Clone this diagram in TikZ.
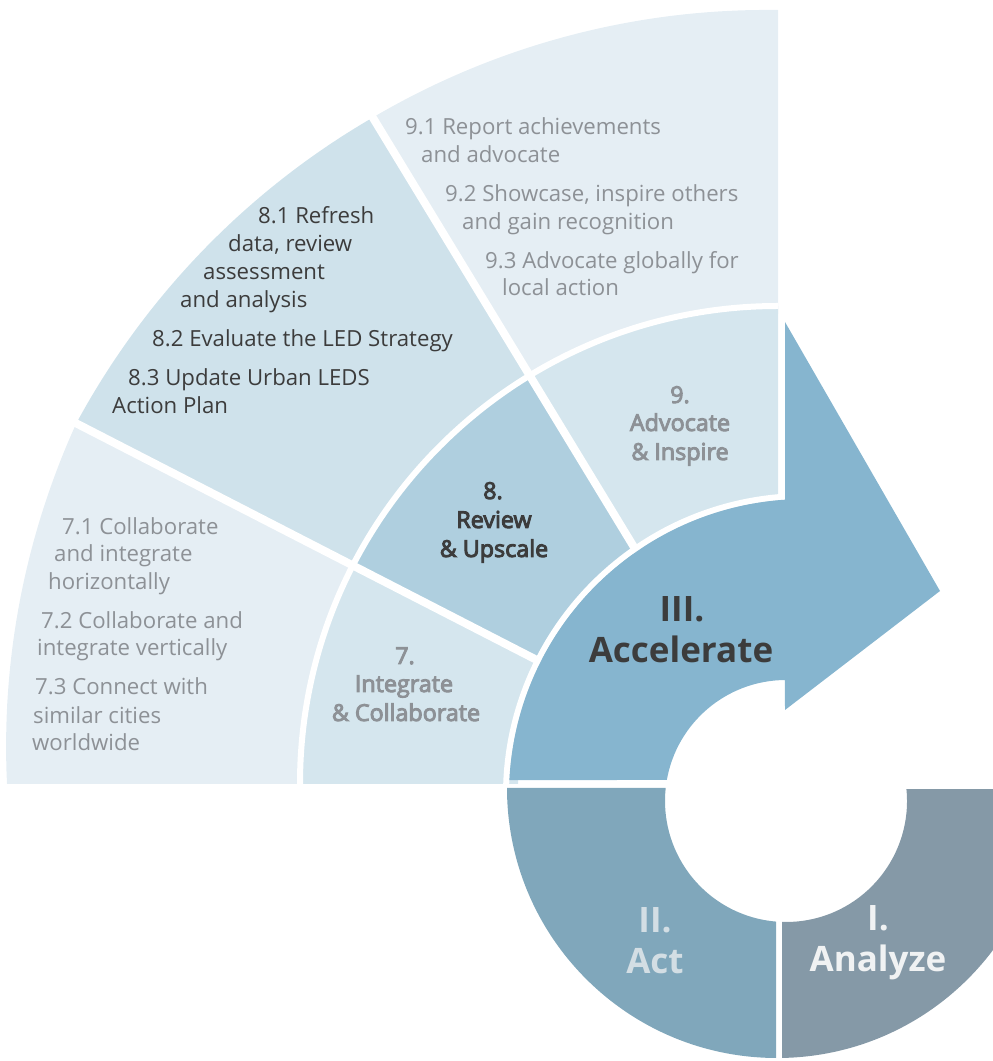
\documentclass[tikz,border=0pt]{standalone}
\usepackage{fontspec}
\setmainfont{Open Sans}
\newfontfamily\semibold{Open Sans}[FakeBold=4]
\usetikzlibrary{calc}
\definecolor{cOuterL}{HTML}{E5EEF4}
\definecolor{cOuterM}{HTML}{CFE2EB}
\definecolor{cMidL}{HTML}{D5E6EE}
\definecolor{cMidD}{HTML}{AFCFDF}
\definecolor{cAcc}{HTML}{86B5CF}
\definecolor{cAct}{HTML}{80A7BB}
\definecolor{cAna}{HTML}{8599A7}
\definecolor{tDark}{HTML}{3C3C3C}
\definecolor{tGray}{HTML}{8D9196}
\definecolor{tAct}{HTML}{D3DEE4}
\definecolor{tAna}{HTML}{F0F2F3}
% annular cell: start angle, end angle, inner r, outer r at start, outer r at end, colour
\newcommand\ringcell[6]{%
  \fill[#6] plot[domain=#1:#2,samples=60] (\x:{#4+(#5-#4)*(\x-(#1))/((#2)-(#1))})
    -- (#2:#3) arc[start angle=#2,end angle=#1,radius=#3 pt] -- cycle;}
\newcommand\actring{($(C2)+(180:270)$) arc[start angle=180,end angle=360,radius=270pt]
    -- ($(H)+(6.17:121)$) arc[start angle=6.17,end angle=-186.17,radius=121pt] -- cycle}
\tikzset{
  reg/.style={font=\fontsize{22.2}{26}\selectfont, anchor=base west, inner sep=0pt},
  grayt/.style={reg, text=tGray},
  darkt/.style={reg, text=tDark},
  lab/.style={font=\semibold\fontsize{23.3}{26}\selectfont, anchor=base, inner sep=0pt},
  big/.style={font=\bfseries\fontsize{35}{40}\selectfont, anchor=base, inner sep=0pt},
  gapline/.style={white, line width=#1},
}
\begin{document}
\begin{tikzpicture}[x=1pt,y=1pt]
\useasboundingbox (0,0) rectangle (993,1061);
\clip (0,0) rectangle (993,1061);
\coordinate (O) at (778,277);
\coordinate (Q) at (805,266);
\coordinate (H) at (786,260);
\coordinate (C2) at (777,273);

% outer and middle rings
\begin{scope}[shift={(778,277)}]
  \ringcell{90}{121.3}{470}{774}{780}{cOuterL}
  \ringcell{121.3}{152.8}{470}{780}{789}{cOuterM}
  \ringcell{152.8}{180}{470}{789}{771}{cOuterL}
  \ringcell{90}{121.3}{260}{478}{478}{cMidL}
  \ringcell{121.3}{152.8}{260}{478}{478}{cMidD}
  \ringcell{152.8}{180}{260}{478}{478}{cMidL}
  \draw[gapline=8pt] (121.3:250) -- (121.3:800);
  \draw[gapline=8pt] (152.8:250) -- (152.8:800);
  \draw[gapline=6pt] (90:478) arc[start angle=90,end angle=180,radius=478pt];
\end{scope}
\draw[gapline=6pt] ($(Q)+(93:299)$) arc[start angle=93,end angle=180,radius=299pt];

% Accelerate arrow
\fill[cAcc] ($(Q)+(177.1:296)$) arc[start angle=177.1,end angle=93.87,radius=296pt]
  -- (785,739) -- (940,470) -- (785,351) -- ($(H)+(90.5:121)$)
  arc[start angle=90.5,end angle=170,radius=121pt] -- cycle;

% Act and Analyze
\begin{scope}
  \clip (0,0) rectangle (776,273);
  \fill[cAct] \actring;
\end{scope}
\begin{scope}
  \clip (782,0) rectangle (993,271);
  \fill[cAna] \actring;
\end{scope}

% 9.x texts
\node[grayt] (t91a) at (405,926) {9.1 Report achievements};
\node[grayt] (t91b) at (421,898) {and advocate};
\node[grayt] (t92a) at (445,859) {9.2 Showcase, inspire others};
\node[grayt] (t92b) at (462,831) {and gain recognition};
\node[grayt] (t93a) at (485,792) {9.3 Advocate globally for};
\node[grayt] (t93b) at (502,765) {local action};

% 8.x texts
\node[darkt] (t81a) at (258,837) {8.1 Refresh};
\node[darkt] (t81b) at (228,809) {data, review};
\node[darkt] (t81c) at (203,781) {assessment};
\node[darkt] (t81d) at (180,753) {and analysis};
\node[darkt] (t82) at (152,714) {8.2 Evaluate the LED Strategy};
\node[darkt] (t83a) at (128,675) {8.3 Update Urban LEDS};
\node[darkt] (t83b) at (112,647) {Action Plan};

% 7.x texts
\node[grayt] (t71a) at (62,526) {7.1 Collaborate};
\node[grayt] (t71b) at (54,499) {and integrate};
\node[grayt] (t71c) at (48,471) {horizontally};
\node[grayt] (t72a) at (41,432) {7.2 Collaborate and};
\node[grayt] (t72b) at (37,405) {integrate vertically};
\node[grayt] (t73a) at (35,366) {7.3 Connect with};
\node[grayt] (t73b) at (33,337) {similar cities};
\node[grayt] (t73c) at (32,310) {worldwide};

% step labels
\node[lab, text=tGray] (l9a) at (680,658) {9.};
\node[lab, text=tGray] (l9b) at (680,630) {Advocate};
\node[lab, text=tGray] (l9c) at (680,601) {\& Inspire};
\node[lab, text=tDark] (l8a) at (493,562) {8.};
\node[lab, text=tDark] (l8b) at (494,533) {Review};
\node[lab, text=tDark] (l8c) at (494,504) {\& Upscale};
\node[lab, text=tGray] (l7a) at (405,397) {7.};
\node[lab, text=tGray] (l7b) at (404,369) {Integrate};
\node[lab, text=tGray] (l7c) at (406,340) {\& Collaborate};

% phase labels
\node[big, text=tDark] (p3a) at (682,439) {III.};
\node[big, text=tDark] (p3b) at (681,398) {Accelerate};
\node[big, text=tAct] (p2a) at (655,128) {II.};
\node[big, text=tAct] (p2b) at (655,87) {Act};
\node[big, text=tAna] (p1a) at (878,130) {I.};
\node[big, text=tAna] (p1b) at (878,89) {Analyze};
\end{tikzpicture}
\end{document}
